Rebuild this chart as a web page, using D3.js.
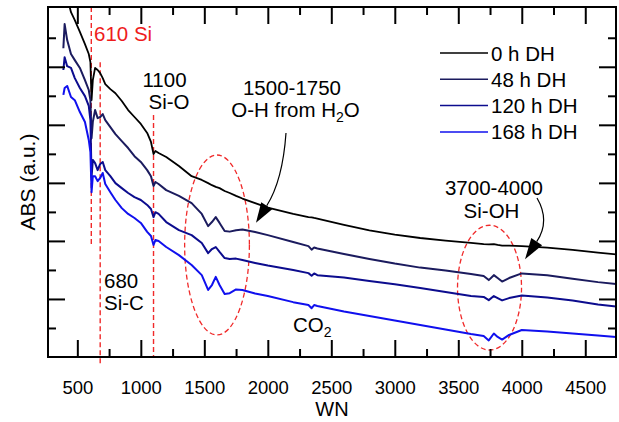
<!DOCTYPE html>
<html>
<head>
<meta charset="utf-8">
<script src="https://cdn.jsdelivr.net/npm/d3@7"></script>
<style>
  body { margin: 0; background: #fff; }
  text { font-family: "Liberation Sans", Arial, sans-serif; }
</style>
</head>
<body>
<svg id="chart" width="619" height="422"></svg>
<script>
// wavenumber grid (cm-1) shared by the four spectra
var wn = [390, 400, 420, 450, 480, 520, 560, 590, 603, 612, 622, 640, 660, 680, 700, 720, 760, 800, 850, 900,
  950, 1000, 1050, 1080, 1100, 1115, 1140, 1200, 1300, 1400, 1480, 1530, 1560, 1590, 1620, 1660, 1700, 1750, 1800, 1900,
  2000, 2200, 2320, 2345, 2365, 2390, 2600, 2800, 3000, 3200, 3400, 3600, 3700, 3740, 3780, 3810, 3845, 3900, 4000, 4200,
  4400, 4600, 4750];

var abs0h = [1.299, 1.271, 1.240, 1.188, 1.161, 1.120, 1.078, 1.044, 1.016, 0.885, 0.954, 0.996, 0.989, 0.978, 0.961, 0.940, 0.923, 0.909, 0.882, 0.851,
  0.827, 0.803, 0.772, 0.741, 0.699, 0.710, 0.703, 0.689, 0.658, 0.623, 0.610, 0.599, 0.592, 0.586, 0.582, 0.572, 0.565, 0.555, 0.546, 0.530,
  0.515, 0.493, 0.482, 0.481, 0.479, 0.477, 0.455, 0.436, 0.422, 0.410, 0.401, 0.393, 0.389, 0.388, 0.389, 0.386, 0.384, 0.384, 0.382, 0.377,
  0.369, 0.360, 0.353];

var abs48h = [1.064, 1.147, 1.092, 1.044, 1.023, 0.996, 0.954, 0.920, 0.885, 0.754, 0.810, 0.851, 0.823, 0.827, 0.837, 0.816, 0.792, 0.768, 0.744, 0.720,
  0.692, 0.672, 0.644, 0.623, 0.589, 0.603, 0.596, 0.575, 0.555, 0.530, 0.493, 0.451, 0.465, 0.482, 0.462, 0.434, 0.432, 0.437, 0.439, 0.431,
  0.420, 0.396, 0.382, 0.370, 0.377, 0.374, 0.355, 0.338, 0.322, 0.308, 0.298, 0.286, 0.279, 0.265, 0.282, 0.272, 0.260, 0.272, 0.288, 0.282,
  0.270, 0.258, 0.251];

var abs120h = [0.989, 1.033, 1.002, 0.996, 0.961, 0.927, 0.899, 0.865, 0.816, 0.620, 0.679, 0.668, 0.644, 0.665, 0.672, 0.644, 0.623, 0.599, 0.582, 0.565,
  0.551, 0.541, 0.524, 0.510, 0.482, 0.499, 0.493, 0.465, 0.437, 0.420, 0.393, 0.358, 0.372, 0.379, 0.362, 0.341, 0.338, 0.339, 0.334, 0.324,
  0.315, 0.300, 0.289, 0.280, 0.288, 0.282, 0.274, 0.262, 0.251, 0.238, 0.224, 0.210, 0.207, 0.196, 0.210, 0.203, 0.195, 0.203, 0.212, 0.205,
  0.195, 0.181, 0.174];

var abs168h = [0.903, 0.927, 0.934, 0.896, 0.885, 0.844, 0.810, 0.748, 0.706, 0.568, 0.623, 0.623, 0.606, 0.617, 0.634, 0.596, 0.568, 0.541, 0.513, 0.493,
  0.479, 0.462, 0.431, 0.417, 0.386, 0.403, 0.400, 0.379, 0.351, 0.317, 0.282, 0.231, 0.248, 0.276, 0.248, 0.217, 0.220, 0.233, 0.231, 0.219,
  0.210, 0.189, 0.179, 0.168, 0.179, 0.176, 0.157, 0.141, 0.126, 0.110, 0.095, 0.079, 0.072, 0.057, 0.081, 0.069, 0.060, 0.076, 0.093, 0.088,
  0.081, 0.074, 0.069];

var seriesNames = ["0 h DH", "48 h DH", "120 h DH", "168 h DH"];
var seriesValues = [abs0h, abs48h, abs120h, abs168h];
var seriesColors = ["#000000", "#1b1b5e", "#0c0c8e", "#1010ee"];

var xMajorTicks = [500, 1000, 1500, 2000, 2500, 3000, 3500, 4000, 4500];
var xMinorTicks = [750, 1250, 1750, 2250, 2750, 3250, 3750, 4250];
var yMajorTicks = [0.2, 0.4, 0.6, 0.8, 1.0];
var yMinorTicks = [0.1, 0.3, 0.5, 0.7, 0.9, 1.1];

// marker lines: wavenumber, top and bottom (absorbance units)
var bandLines = [[610, 1.206, 0.386], [680, 1.016, -0.024], [1100, 0.834, 0]];
// dashed ellipses around regions: [wn0, wn1, abs0, abs1]
var bandRegions = [[1345, 1855, 0.076, 0.696], [3494, 3998, 0.024, 0.454]];

var svg = d3.select('#chart');
var pLeft = 48, pRight = 616, pTop = 7, pBottom = 357;

var x = d3.scaleLinear().domain([269, 4742]).range([pLeft, pRight]);
var y = d3.scaleLinear().domain([0, 1.206]).range([pBottom, pTop]);

var red = '#f02a2a';

// clip for spectra
svg.append('clipPath').attr('id', 'plotclip')
  .append('rect').attr('x', pLeft).attr('y', pTop).attr('width', pRight - pLeft).attr('height', pBottom - pTop);

// red dashed marker lines
svg.selectAll('line.band').data(bandLines).enter().append('line')
  .attr('class', 'band')
  .attr('x1', function (d) { return x(d[0]); }).attr('x2', function (d) { return x(d[0]); })
  .attr('y1', function (d) { return y(d[1]); }).attr('y2', function (d) { return y(d[2]); })
  .attr('stroke', red).attr('stroke-width', 1.4).attr('stroke-dasharray', '5,3');

svg.selectAll('ellipse').data(bandRegions).enter().append('ellipse')
  .attr('cx', function (d) { return (x(d[0]) + x(d[1])) / 2; })
  .attr('cy', function (d) { return (y(d[2]) + y(d[3])) / 2; })
  .attr('rx', function (d) { return (x(d[1]) - x(d[0])) / 2; })
  .attr('ry', function (d) { return (y(d[2]) - y(d[3])) / 2; })
  .attr('fill', 'none').attr('stroke', red).attr('stroke-width', 1.3).attr('stroke-dasharray', '5,3');

// spectra
var line = d3.line()
  .x(function (d, i) { return x(wn[i]); })
  .y(function (d) { return y(d); });

svg.append('g').attr('clip-path', 'url(#plotclip)')
  .selectAll('path').data(seriesValues).enter().append('path')
  .attr('d', line)
  .attr('fill', 'none')
  .attr('stroke', function (d, i) { return seriesColors[i]; })
  .attr('stroke-width', function (d, i) { return i == 0 ? 1.8 : 2; })
  .attr('stroke-linejoin', 'round');

// axes, ticks inward on all four sides
function styleAxis(g) {
  g.select('.domain').remove();
  g.selectAll('.tick line').attr('stroke', '#000').attr('stroke-width', 2);
  g.selectAll('text').attr('font-size', '18.5px').attr('fill', '#000')
    .style('font-family', '"Liberation Sans", Arial, sans-serif');
}

svg.append('g').attr('transform', 'translate(0,' + pBottom + ')')
  .call(d3.axisBottom(x).tickValues(xMajorTicks).tickSize(-17).tickPadding(24).tickFormat(d3.format('d')))
  .call(styleAxis);
svg.append('g').attr('transform', 'translate(0,' + pBottom + ')')
  .call(d3.axisBottom(x).tickValues(xMinorTicks).tickSize(-8).tickFormat(''))
  .call(styleAxis);
svg.append('g').attr('transform', 'translate(0,' + pTop + ')')
  .call(d3.axisTop(x).tickValues(xMajorTicks).tickSize(-17).tickFormat(''))
  .call(styleAxis);
svg.append('g').attr('transform', 'translate(0,' + pTop + ')')
  .call(d3.axisTop(x).tickValues(xMinorTicks).tickSize(-8).tickFormat(''))
  .call(styleAxis);
svg.append('g').attr('transform', 'translate(' + pLeft + ',0)')
  .call(d3.axisLeft(y).tickValues(yMajorTicks).tickSize(-17).tickFormat(''))
  .call(styleAxis);
svg.append('g').attr('transform', 'translate(' + pLeft + ',0)')
  .call(d3.axisLeft(y).tickValues(yMinorTicks).tickSize(-8).tickFormat(''))
  .call(styleAxis);
svg.append('g').attr('transform', 'translate(' + pRight + ',0)')
  .call(d3.axisRight(y).tickValues(yMajorTicks).tickSize(-17).tickFormat(''))
  .call(styleAxis);
svg.append('g').attr('transform', 'translate(' + pRight + ',0)')
  .call(d3.axisRight(y).tickValues(yMinorTicks).tickSize(-8).tickFormat(''))
  .call(styleAxis);

svg.append('rect').attr('x', pLeft).attr('y', pTop)
  .attr('width', pRight - pLeft).attr('height', pBottom - pTop)
  .attr('fill', 'none').attr('stroke', '#000').attr('stroke-width', 2);

// axis titles
svg.append('text').attr('x', (pLeft + pRight) / 2).attr('y', 416)
  .attr('text-anchor', 'middle').attr('font-size', '20px').text('WN');
svg.append('text').attr('transform', 'translate(34.5,' + (pTop + pBottom) / 2 + ') rotate(-90)')
  .attr('text-anchor', 'middle').attr('font-size', '21px').text('ABS (a.u.)');

// legend
var legend = svg.append('g').selectAll('g').data(seriesNames).enter().append('g')
  .attr('transform', function (d, i) { return 'translate(440,' + (53 + i * 26.3) + ')'; });
legend.append('line').attr('x1', 0).attr('x2', 48).attr('y1', 0).attr('y2', 0)
  .attr('stroke', function (d, i) { return seriesColors[i]; }).attr('stroke-width', 1.5);
legend.append('text').attr('x', 51).attr('y', 7.5).attr('font-size', '20.5px').text(function (d) { return d; });

// annotations
function note(tx, ty, str, anchor, color) {
  return svg.append('text').attr('x', tx).attr('y', ty).attr('text-anchor', anchor || 'start')
    .attr('font-size', '20.5px').attr('fill', color || '#000').text(str);
}
note(94, 41, '610 Si', 'start', '#ee1c1c');
note(164.5, 87, '1100', 'middle');
note(169, 108.5, 'Si-O', 'middle');
note(292, 94.5, '1500-1750', 'middle');
var oh = note(295.5, 117, '', 'middle');
oh.append('tspan').text('O-H from H');
oh.append('tspan').attr('font-size', '14px').attr('dy', 5).text('2');
oh.append('tspan').attr('dy', -5).text('O');
note(104, 288, '680');
note(104, 309.5, 'Si-C');
note(494, 195, '3700-4000', 'middle');
note(491.5, 217.5, 'Si-OH', 'middle');
var co = note(293, 332, '');
co.append('tspan').text('CO');
co.append('tspan').attr('font-size', '14px').attr('dy', 5).text('2');

function curvedArrow(start, ctrl, base, tip) {
  svg.append('path')
    .attr('d', 'M' + start + 'Q' + ctrl + ' ' + base)
    .attr('fill', 'none').attr('stroke', '#000').attr('stroke-width', 1.2);
  var dx = tip[0] - base[0], dy = tip[1] - base[1];
  var len = Math.sqrt(dx * dx + dy * dy);
  var px = -dy / len * 6.5, py = dx / len * 6.5;
  svg.append('path')
    .attr('d', 'M' + tip + 'L' + [base[0] + px, base[1] + py] + 'L' + [base[0] - px, base[1] - py] + 'Z')
    .attr('fill', '#000');
}
curvedArrow([286, 133], [282.7, 180.4], [266.7, 205.8], [256, 222.7]);
curvedArrow([537, 198], [550.5, 221], [536.7, 241.7], [525, 259.3]);
</script>
</body>
</html>
